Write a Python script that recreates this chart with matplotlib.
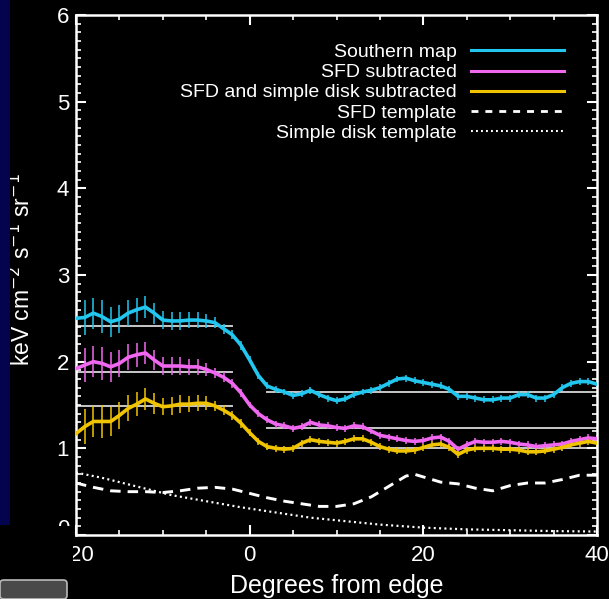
import numpy as np
import matplotlib.pyplot as plt
from matplotlib.lines import Line2D
from matplotlib.patches import Rectangle, FancyBboxPatch
from matplotlib.transforms import ScaledTranslation

plt.rcParams['font.family'] = ['Liberation Sans', 'DejaVu Sans']

# Perfiles medidos cada grado desde el borde
grados = np.arange(-20, 41)

southern = [2.50, 2.51, 2.56, 2.52, 2.46, 2.49, 2.56, 2.60, 2.63, 2.56,
            2.48, 2.47, 2.47, 2.48, 2.48, 2.47, 2.45, 2.38, 2.31, 2.19,
            2.02, 1.84, 1.72, 1.68, 1.65, 1.61, 1.63, 1.67, 1.62, 1.58,
            1.55, 1.57, 1.62, 1.65, 1.67, 1.70, 1.75, 1.80, 1.81, 1.78,
            1.76, 1.74, 1.72, 1.68, 1.60, 1.60, 1.58, 1.56, 1.56, 1.58,
            1.58, 1.62, 1.62, 1.58, 1.58, 1.62, 1.70, 1.75, 1.77, 1.77,
            1.74]

sfd_sub = [1.92, 1.96, 2.00, 1.98, 1.94, 1.98, 2.05, 2.08, 2.10, 2.02,
           1.95, 1.95, 1.95, 1.94, 1.94, 1.91, 1.87, 1.82, 1.75, 1.64,
           1.50, 1.40, 1.33, 1.28, 1.26, 1.23, 1.25, 1.30, 1.27, 1.26,
           1.24, 1.23, 1.26, 1.25, 1.20, 1.15, 1.13, 1.11, 1.09, 1.08,
           1.09, 1.12, 1.13, 1.08, 0.99, 1.04, 1.08, 1.07, 1.07, 1.08,
           1.07, 1.05, 1.04, 1.02, 1.03, 1.04, 1.05, 1.08, 1.10, 1.12,
           1.11]

disk_sub = [1.17, 1.25, 1.31, 1.31, 1.31, 1.38, 1.46, 1.51, 1.57, 1.52,
            1.48, 1.49, 1.51, 1.51, 1.52, 1.52, 1.49, 1.44, 1.38, 1.29,
            1.18, 1.08, 1.02, 1.00, 0.99, 1.00, 1.06, 1.10, 1.08, 1.07,
            1.06, 1.08, 1.11, 1.11, 1.07, 1.02, 0.99, 0.97, 0.97, 0.98,
            1.01, 1.04, 1.05, 1.01, 0.93, 0.98, 1.00, 1.00, 1.00, 0.99,
            0.99, 0.98, 0.96, 0.96, 0.97, 0.99, 1.01, 1.04, 1.06, 1.08,
            1.06]

errores = [0.15, 0.20, 0.18, 0.19, 0.17, 0.16, 0.15, 0.14, 0.13, 0.12,
           0.10, 0.10, 0.10, 0.09, 0.09, 0.08, 0.06, 0.06, 0.05, 0.05] + [0.04] * 41

# Plantillas
sfd_x = [-20, -18, -16, -14, -12, -10, -8, -6, -4, -2, 0, 2, 4, 6, 8, 10,
         12, 14, 16, 18, 19, 20, 22, 24, 26, 28, 30, 32, 34, 36, 38, 40]
sfd_tmpl = [0.60, 0.55, 0.51, 0.50, 0.50, 0.49, 0.51, 0.54, 0.55, 0.53,
            0.48, 0.43, 0.39, 0.36, 0.33, 0.33, 0.36, 0.44, 0.56, 0.68,
            0.70, 0.67, 0.61, 0.59, 0.54, 0.51, 0.57, 0.60, 0.60, 0.64,
            0.69, 0.69]

disco_x = [-20, -17, -13, -9, -5, -1, 3, 7, 11, 15, 20, 25, 30, 35, 40]
disco_tmpl = [0.72, 0.66, 0.56, 0.46, 0.39, 0.32, 0.26, 0.20, 0.16, 0.12,
              0.085, 0.065, 0.055, 0.045, 0.04]

# Niveles medios a cada lado del borde
nivel_izq = [2.41, 1.88, 1.49]
nivel_der = [1.65, 1.23, 1.00]

colores = ['#22c6ee', '#f068f0', '#f0c400']
nombres = ['Southern map', 'SFD subtracted', 'SFD and simple disk subtracted']
series = [southern, sfd_sub, disk_sub]

fig = plt.figure(figsize=(6.09, 5.99), dpi=100, facecolor='black')
ax = fig.add_axes([76 / 609, 64 / 599, 521 / 609, 520 / 599])
ax.set_facecolor('black')

for yl in nivel_izq:
    ax.plot([-20, -2], [yl, yl], color='#c8c8c8', lw=1.4, zorder=1)
for yr in nivel_der:
    ax.plot([2, 40], [yr, yr], color='#c8c8c8', lw=1.4, zorder=1)

for vals, col in zip(series, colores):
    ax.errorbar(grados, vals, yerr=errores, fmt='none', ecolor=col,
                elinewidth=1.3, alpha=0.85, zorder=2)
    ax.plot(grados, vals, color=col, lw=2.6, zorder=3)

ax.plot(sfd_x, sfd_tmpl, color='white', lw=2.1, dashes=(3.6, 2.4), zorder=2)
ax.plot(disco_x, disco_tmpl, color='white', lw=1.6, dashes=(0.9, 1.5), zorder=2)

ax.set_xlim(-20, 40)
ax.set_ylim(0, 6)
ax.set_xticks([-20, 0, 20, 40])
ax.set_xticks(np.arange(-20, 41, 5), minor=True)
ax.set_yticks(np.arange(0, 7, 1))
ax.set_yticks(np.arange(0, 6.01, 0.1), minor=True)
ax.tick_params(which='both', direction='in', colors='white', top=True, right=True,
               labelsize=16)
ax.tick_params(which='major', length=7, width=1.5)
ax.tick_params(which='minor', length=3.5, width=1.2)
ax.tick_params(axis='x', which='major', pad=7)
ax.tick_params(axis='y', which='major', pad=5)
for s in ax.spines.values():
    s.set_color('white')
    s.set_linewidth(1.8)

# el "0" del eje y queda un poco mas arriba
lab0 = ax.yaxis.get_major_ticks()[0].label1
lab0.set_transform(lab0.get_transform() + ScaledTranslation(0, 0.08, fig.dpi_scale_trans))

ax.set_xlabel('Degrees from edge', color='white', fontsize=18, labelpad=6)
fig.text(22 / 609, 1 - 270 / 599, r'keV cm$^{-2}$ s$^{-1}$ sr$^{-1}$', color='white',
         fontsize=16.5, rotation=90, ha='center', va='center')

manejadores = [Line2D([], [], color=c, lw=2.2) for c in colores]
manejadores.append(Line2D([], [], color='white', lw=2.0, dashes=(2.5, 2.5)))
manejadores.append(Line2D([], [], color='white', lw=1.5, dashes=(0.9, 1.5)))
etiquetas = nombres + ['SFD template', 'Simple disk template']
leg = ax.legend(manejadores, etiquetas, loc='upper right', bbox_to_anchor=(0.9525, 0.96),
                borderaxespad=0, frameon=False, markerfirst=False, fontsize=14,
                handlelength=4.8, handletextpad=0.75, labelspacing=0.13)
for t in leg.get_texts():
    t.set_color('white')

# Bordes de la diapositiva
fig.patches.append(Rectangle((0, 74 / 599), 10 / 609, 525 / 599, transform=fig.transFigure,
                             facecolor='#04044e', edgecolor='none', zorder=5))
fig.patches.append(Rectangle((0, 0), 73 / 609, 73 / 599, transform=fig.transFigure,
                             facecolor='black', edgecolor='none', zorder=5))
fig.patches.append(FancyBboxPatch((0, 0), 67 / 609, 19 / 599,
                                  boxstyle='round,pad=0,rounding_size=0.006',
                                  transform=fig.transFigure, facecolor='#4a4a4a',
                                  edgecolor='#bbbbbb', linewidth=1.2, zorder=6))

fig.savefig('out.png', dpi=100, facecolor='black')
